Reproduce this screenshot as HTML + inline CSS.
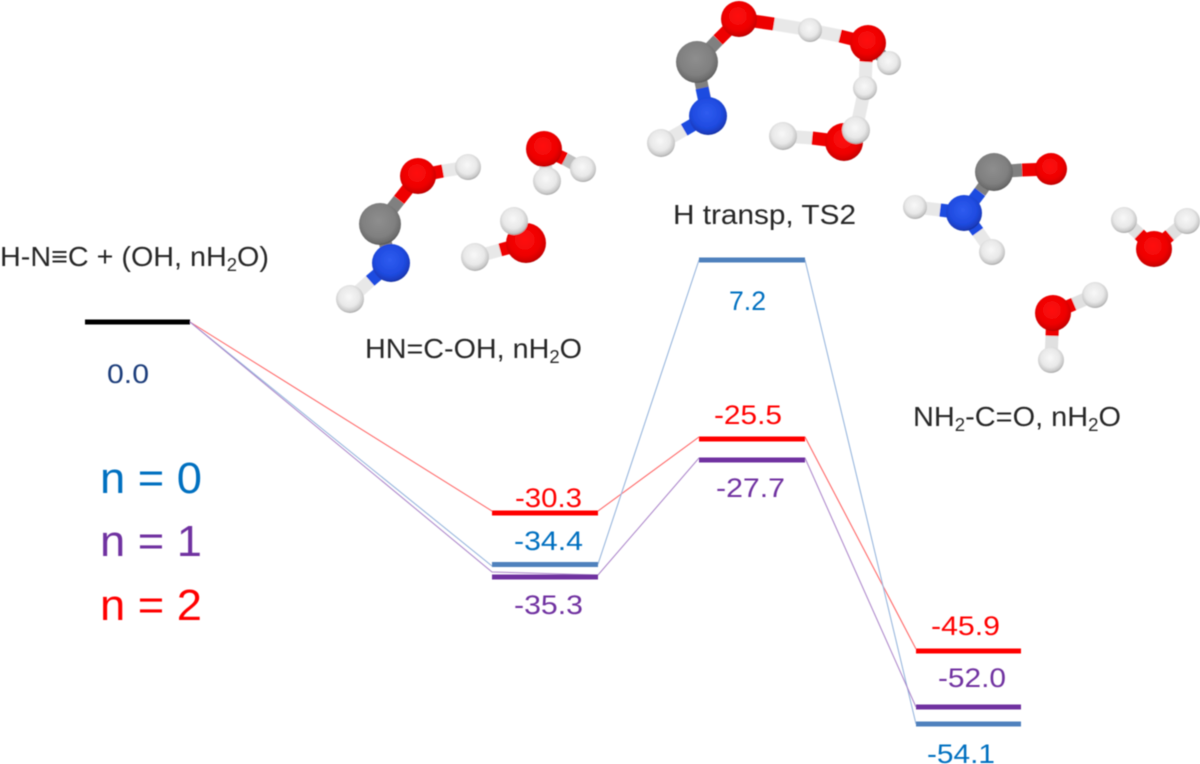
<!DOCTYPE html>
<html><head><meta charset="utf-8"><style>
html,body{margin:0;padding:0;background:#fff;width:1200px;height:764px;overflow:hidden}
svg{display:block}
text{font-family:"Liberation Sans",sans-serif;font-size:27px;fill:#262626}
.l{font-size:28px}
.n{font-size:44px}
.b{stroke-width:13;stroke-linecap:butt;fill:none}
</style></head><body>
<svg width="1200" height="764" viewBox="0 0 1200 764" xmlns="http://www.w3.org/2000/svg">
<defs>
<radialGradient id="O" cx=".47" cy=".42" r=".6"><stop offset="0" stop-color="#ff1212"/><stop offset=".65" stop-color="#ee0000"/><stop offset=".88" stop-color="#d20000"/><stop offset="1" stop-color="#a80000"/></radialGradient>
<radialGradient id="H" cx=".47" cy=".42" r=".6"><stop offset="0" stop-color="#f8f8f8"/><stop offset=".6" stop-color="#e8e8e8"/><stop offset=".86" stop-color="#c8c8c8"/><stop offset="1" stop-color="#9a9a9a"/></radialGradient>
<radialGradient id="C" cx=".47" cy=".42" r=".6"><stop offset="0" stop-color="#8e8e8e"/><stop offset=".65" stop-color="#808080"/><stop offset=".88" stop-color="#6c6c6c"/><stop offset="1" stop-color="#505050"/></radialGradient>
<radialGradient id="N" cx=".47" cy=".42" r=".6"><stop offset="0" stop-color="#2f5cf0"/><stop offset=".65" stop-color="#1f4be0"/><stop offset=".88" stop-color="#1a3cc0"/><stop offset="1" stop-color="#122a90"/></radialGradient>
<filter id="s" x="-5%" y="-5%" width="110%" height="110%"><feGaussianBlur stdDeviation="0.6"/></filter>
</defs>
<rect width="1200" height="764" fill="#fff"/>
<g filter="url(#s)">
<g fill="none" stroke-width="1">
<path d="M190 322L492 511L598 511L699 437L805 437L916 649" stroke="#ff5a5a"/>
<path d="M190 322L492 566L598 564L699 260L805 260L916 724" stroke="#8fb0da"/>
<path d="M190 322L492 572L598 575L699 458L805 458L916 707" stroke="#a880c8"/>
</g>
<g stroke-width="5">
<path d="M85 322H190" stroke="#000"/>
<path d="M492 513H598M699 439H805M916 651H1021" stroke="#ff0000"/>
<path d="M492 564.500H598M699 260H805M916 724H1021" stroke="#4f81bd"/>
<path d="M492 577H598M699 460H805M916 707H1021" stroke="#7030a0"/>
</g>

<!-- molecule 1 -->
<path class="b" d="M380 224L399 200" stroke="#808080"/><path class="b" d="M399 200L418 176" stroke="#ee0000"/>
<path class="b" d="M418 176L443 171" stroke="#ee0000"/><path class="b" d="M443 171L468 167" stroke="#e8e8e8"/>
<path class="b" d="M380 224L391 263" stroke="#808080"/>
<path class="b" d="M391 263L370 281" stroke="#1f4be0"/><path class="b" d="M370 281L350 299" stroke="#e8e8e8"/>
<path class="b" d="M544 149L565 159" stroke="#ee0000"/><path class="b" d="M565 159L583 169" stroke="#c0c0c0"/>
<path class="b" d="M544 149L547 181" stroke="#ddd"/>
<path class="b" d="M526 243L500 250" stroke="#ee0000"/><path class="b" d="M500 250L475 257" stroke="#e8e8e8"/>
<path class="b" d="M526 243L514 221" stroke="#999"/>
<circle cx="468" cy="167" r="13" fill="url(#H)"/><circle cx="418" cy="176" r="18" fill="url(#O)"/>
<circle cx="380" cy="224" r="21" fill="url(#C)"/><circle cx="350" cy="299" r="14" fill="url(#H)"/><circle cx="391" cy="263" r="19" fill="url(#N)"/>
<circle cx="583" cy="169" r="13" fill="url(#H)"/><circle cx="544" cy="149" r="18" fill="url(#O)"/><circle cx="547" cy="181" r="14" fill="url(#H)"/>
<circle cx="475" cy="257" r="14" fill="url(#H)"/><circle cx="526" cy="243" r="20" fill="url(#O)"/><circle cx="514" cy="221" r="14" fill="url(#H)"/>

<!-- molecule TS2 -->
<path class="b" d="M697 62L718 40" stroke="#808080"/><path class="b" d="M718 40L739 19" stroke="#ee0000"/>
<path class="b" d="M697 62L708 116" stroke="#808080"/>
<path class="b" d="M702 88L708 116" stroke="#1f4be0"/>
<path class="b" d="M708 116L684 130" stroke="#1f4be0"/><path class="b" d="M684 130L661 143" stroke="#e8e8e8"/>
<path class="b" d="M739 19L774 24" stroke="#ee0000"/><path class="b" d="M774 24L810 30" stroke="#e8e8e8"/>
<path class="b" d="M810 30L840 36" stroke="#e8e8e8"/><path class="b" d="M840 36L868 43" stroke="#ee0000"/>
<path class="b" d="M868 43L889 63" stroke="#777"/>
<path class="b" d="M868 43L866 62" stroke="#ee0000"/><path class="b" d="M866 62L865 88" stroke="#e8e8e8"/>
<path class="b" d="M865 88L856 130" stroke="#e8e8e8"/>
<path class="b" d="M844 142L812 138" stroke="#ee0000"/><path class="b" d="M812 138L783 136" stroke="#e8e8e8"/>
<circle cx="697" cy="62" r="21" fill="url(#C)"/><circle cx="739" cy="19" r="18" fill="url(#O)"/>
<circle cx="661" cy="143" r="14" fill="url(#H)"/><circle cx="708" cy="116" r="19" fill="url(#N)"/>
<circle cx="810" cy="30" r="12" fill="url(#H)"/><circle cx="889" cy="63" r="12" fill="url(#H)"/><circle cx="868" cy="43" r="18" fill="url(#O)"/>
<circle cx="865" cy="88" r="12" fill="url(#H)"/>
<circle cx="783" cy="136" r="14" fill="url(#H)"/><circle cx="844" cy="142" r="19" fill="url(#O)"/><circle cx="856" cy="130" r="14" fill="url(#H)"/>

<!-- molecule 3 -->
<path class="b" d="M994 172L1022 170" stroke="#808080"/><path class="b" d="M1022 170L1051 169" stroke="#ee0000"/>
<path class="b" d="M994 172L980 192" stroke="#808080"/><path class="b" d="M980 192L964 213" stroke="#1f4be0"/>
<path class="b" d="M964 213L940 210" stroke="#1f4be0"/><path class="b" d="M940 210L915 207" stroke="#e8e8e8"/>
<path class="b" d="M964 213L978 232" stroke="#1f4be0"/><path class="b" d="M978 232L992 252" stroke="#e8e8e8"/>
<path class="b" d="M1154 249L1139 234" stroke="#ee0000"/><path class="b" d="M1139 234L1124 220" stroke="#e0e0e0"/>
<path class="b" d="M1154 249L1170 235" stroke="#ee0000"/><path class="b" d="M1170 235L1187 221" stroke="#e0e0e0"/>
<path class="b" d="M1053 313L1074 304" stroke="#ee0000"/><path class="b" d="M1074 304L1095 295" stroke="#e0e0e0"/>
<path class="b" d="M1053 313L1052 336" stroke="#ee0000"/><path class="b" d="M1052 336L1051 360" stroke="#e0e0e0"/>
<circle cx="1051" cy="169" r="16" fill="url(#O)"/><circle cx="994" cy="172" r="19" fill="url(#C)"/>
<circle cx="915" cy="207" r="12" fill="url(#H)"/><circle cx="992" cy="252" r="13" fill="url(#H)"/><circle cx="964" cy="213" r="18" fill="url(#N)"/>
<circle cx="1124" cy="220" r="13" fill="url(#H)"/><circle cx="1187" cy="221" r="13" fill="url(#H)"/><circle cx="1154" cy="249" r="18" fill="url(#O)"/>
<circle cx="1095" cy="295" r="13" fill="url(#H)"/><circle cx="1051" cy="360" r="13" fill="url(#H)"/><circle cx="1053" cy="313" r="18" fill="url(#O)"/>

<!-- labels -->
<text class="l" x="0" y="266" textLength="269" lengthAdjust="spacingAndGlyphs">H-N≡C + (OH, nH<tspan font-size="18" dy="5">2</tspan><tspan dy="-5">O)</tspan></text>
<text class="l" x="365" y="358" textLength="217" lengthAdjust="spacingAndGlyphs">HN=C-OH, nH<tspan font-size="18" dy="5">2</tspan><tspan dy="-5">O</tspan></text>
<text class="l" x="673" y="224" textLength="183" lengthAdjust="spacingAndGlyphs">H transp, TS2</text>
<text class="l" x="913" y="426" textLength="208" lengthAdjust="spacingAndGlyphs">NH<tspan font-size="18" dy="5">2</tspan><tspan dy="-5">-C=O, nH</tspan><tspan font-size="18" dy="5">2</tspan><tspan dy="-5">O</tspan></text>

<text x="107" y="383" textLength="42" lengthAdjust="spacingAndGlyphs" style="fill:#1f3d7a">0.0</text>
<text x="515" y="507" textLength="67" lengthAdjust="spacingAndGlyphs" style="fill:#ff0000">-30.3</text>
<text x="514" y="550" textLength="69" lengthAdjust="spacingAndGlyphs" style="fill:#0070c0">-34.4</text>
<text x="514" y="614" textLength="69" lengthAdjust="spacingAndGlyphs" style="fill:#7030a0">-35.3</text>
<text x="729" y="310" textLength="37" lengthAdjust="spacingAndGlyphs" style="fill:#0070c0">7.2</text>
<text x="714" y="424" textLength="68" lengthAdjust="spacingAndGlyphs" style="fill:#ff0000">-25.5</text>
<text x="716" y="497" textLength="69" lengthAdjust="spacingAndGlyphs" style="fill:#7030a0">-27.7</text>
<text x="931" y="635" textLength="69" lengthAdjust="spacingAndGlyphs" style="fill:#ff0000">-45.9</text>
<text x="938" y="687" textLength="68" lengthAdjust="spacingAndGlyphs" style="fill:#7030a0">-52.0</text>
<text x="927" y="763" textLength="68" lengthAdjust="spacingAndGlyphs" style="fill:#0070c0">-54.1</text>

<text class="n" x="100" y="493" textLength="102" lengthAdjust="spacingAndGlyphs" style="fill:#0070c0">n = 0</text>
<text class="n" x="100" y="556" textLength="102" lengthAdjust="spacingAndGlyphs" style="fill:#7030a0">n = 1</text>
<text class="n" x="100" y="620" textLength="102" lengthAdjust="spacingAndGlyphs" style="fill:#ff0000">n = 2</text>
</g>
</svg>
</body></html>
